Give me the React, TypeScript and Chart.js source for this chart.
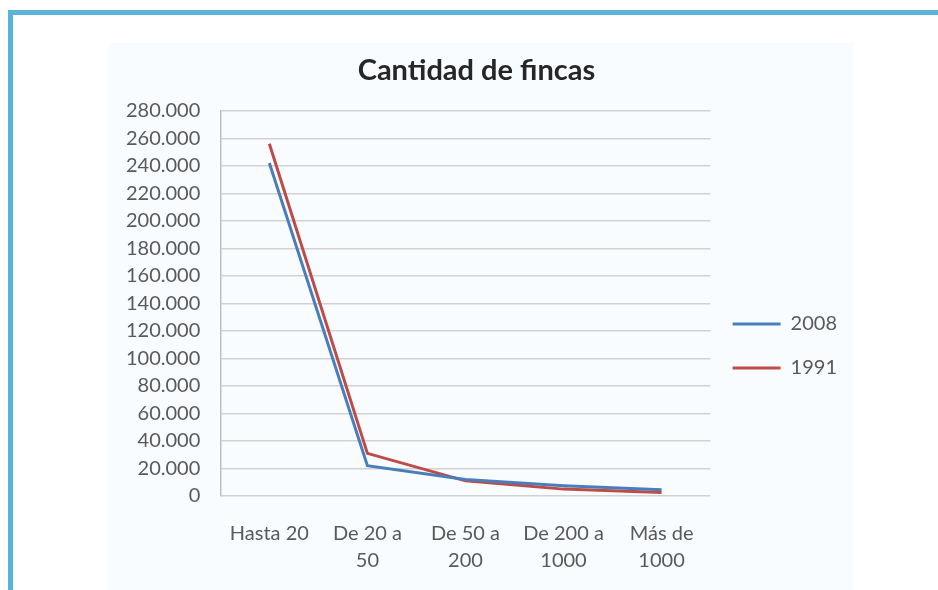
import React, { useEffect, useRef } from "react";
import { Chart, registerables } from "chart.js";

Chart.register(...registerables);

const categories: string[][] = [
  ["Hasta 20"],
  ["De 20 a", "50"],
  ["De 50 a", "200"],
  ["De 200 a", "1000"],
  ["Más de", "1000"],
];
const series2008: number[] = [242000, 22000, 12000, 7500, 4500];
const series1991: number[] = [256000, 31000, 11000, 5000, 2500];
const yMin = 0;
const yMax = 280000;
const yStep = 20000;
const chartTitle = "Cantidad de fincas";

const FONT = "Lato, 'Open Sans', sans-serif";

function fmt(v: number): string {
  return Math.round(v)
    .toString()
    .replace(/\B(?=(\d{3})+(?!\d))/g, ".");
}

export default function App() {
  const ref = useRef<HTMLCanvasElement | null>(null);

  useEffect(() => {
    if (!ref.current) return;
    const baseGen = (Chart as any).defaults.plugins.legend.labels.generateLabels;
    const chart = new Chart(ref.current, {
      type: "line",
      data: {
        labels: categories,
        datasets: [
          {
            label: "2008",
            data: series2008,
            borderColor: "#4a7ebb",
            backgroundColor: "#4a7ebb",
            borderWidth: 3,
            pointRadius: 0,
            tension: 0,
          },
          {
            label: "1991",
            data: series1991,
            borderColor: "#be4b48",
            backgroundColor: "#be4b48",
            borderWidth: 3,
            pointRadius: 0,
            tension: 0,
          },
        ],
      },
      options: {
        animation: false,
        responsive: false,
        maintainAspectRatio: false,
        layout: { padding: { left: 10, right: 10, top: 10, bottom: 0 } },
        plugins: {
          title: {
            display: true,
            text: chartTitle,
            color: "#262626",
            font: { family: FONT, size: 29, weight: "bold" },
            padding: { top: 0, bottom: 23 },
          },
          legend: {
            position: "right",
            title: { display: true, text: "", padding: 0, font: { size: 10, lineHeight: "43px" } },
            labels: {
              boxWidth: 48,
              boxHeight: 0,
              padding: 22,
              color: "#595959",
              font: { family: FONT, size: 20, lineHeight: 1.1 },
              generateLabels: (c: any) =>
                baseGen(c).map((l: any) => ({ ...l, text: [l.text] })),
            },
          },
          tooltip: { enabled: false },
        },
        scales: {
          x: {
            offset: true,
            grid: { display: false, drawTicks: false },
            border: { display: false },
            ticks: {
              color: "#595959",
              font: { family: FONT, size: 20, lineHeight: 1.35 },
              padding: 24,
              maxRotation: 0,
              autoSkip: false,
            },
          },
          y: {
            min: yMin,
            max: yMax,
            grid: { color: "#d2d2d2", lineWidth: 1.5, drawTicks: false },
            border: { display: true, color: "#bfbfbf", width: 1.5 },
            ticks: {
              stepSize: yStep,
              color: "#595959",
              font: { family: FONT, size: 20 },
              padding: 20,
              callback: (v: any) => fmt(Number(v)),
            },
          },
        },
      },
    });
    return () => chart.destroy();
  }, []);

  return (
    <div style={{ position: "fixed", left: 0, top: 0, width: 938, height: 590, background: "#ffffff", overflow: "hidden" }}>
      <div style={{ position: "absolute", left: 8, top: 10, width: 930, height: 5, background: "#5ab4da" }} />
      <div style={{ position: "absolute", left: 8, top: 10, width: 5, height: 580, background: "#5ab4da" }} />
      <div style={{ position: "absolute", left: 108, top: 43, width: 745, height: 547, background: "#f9fcfe" }} />
      <canvas
        ref={ref}
        width={761}
        height={555}
        style={{ position: "absolute", left: 96, top: 43, display: "block", width: 761, height: 555 }}
      />
    </div>
  );
}
